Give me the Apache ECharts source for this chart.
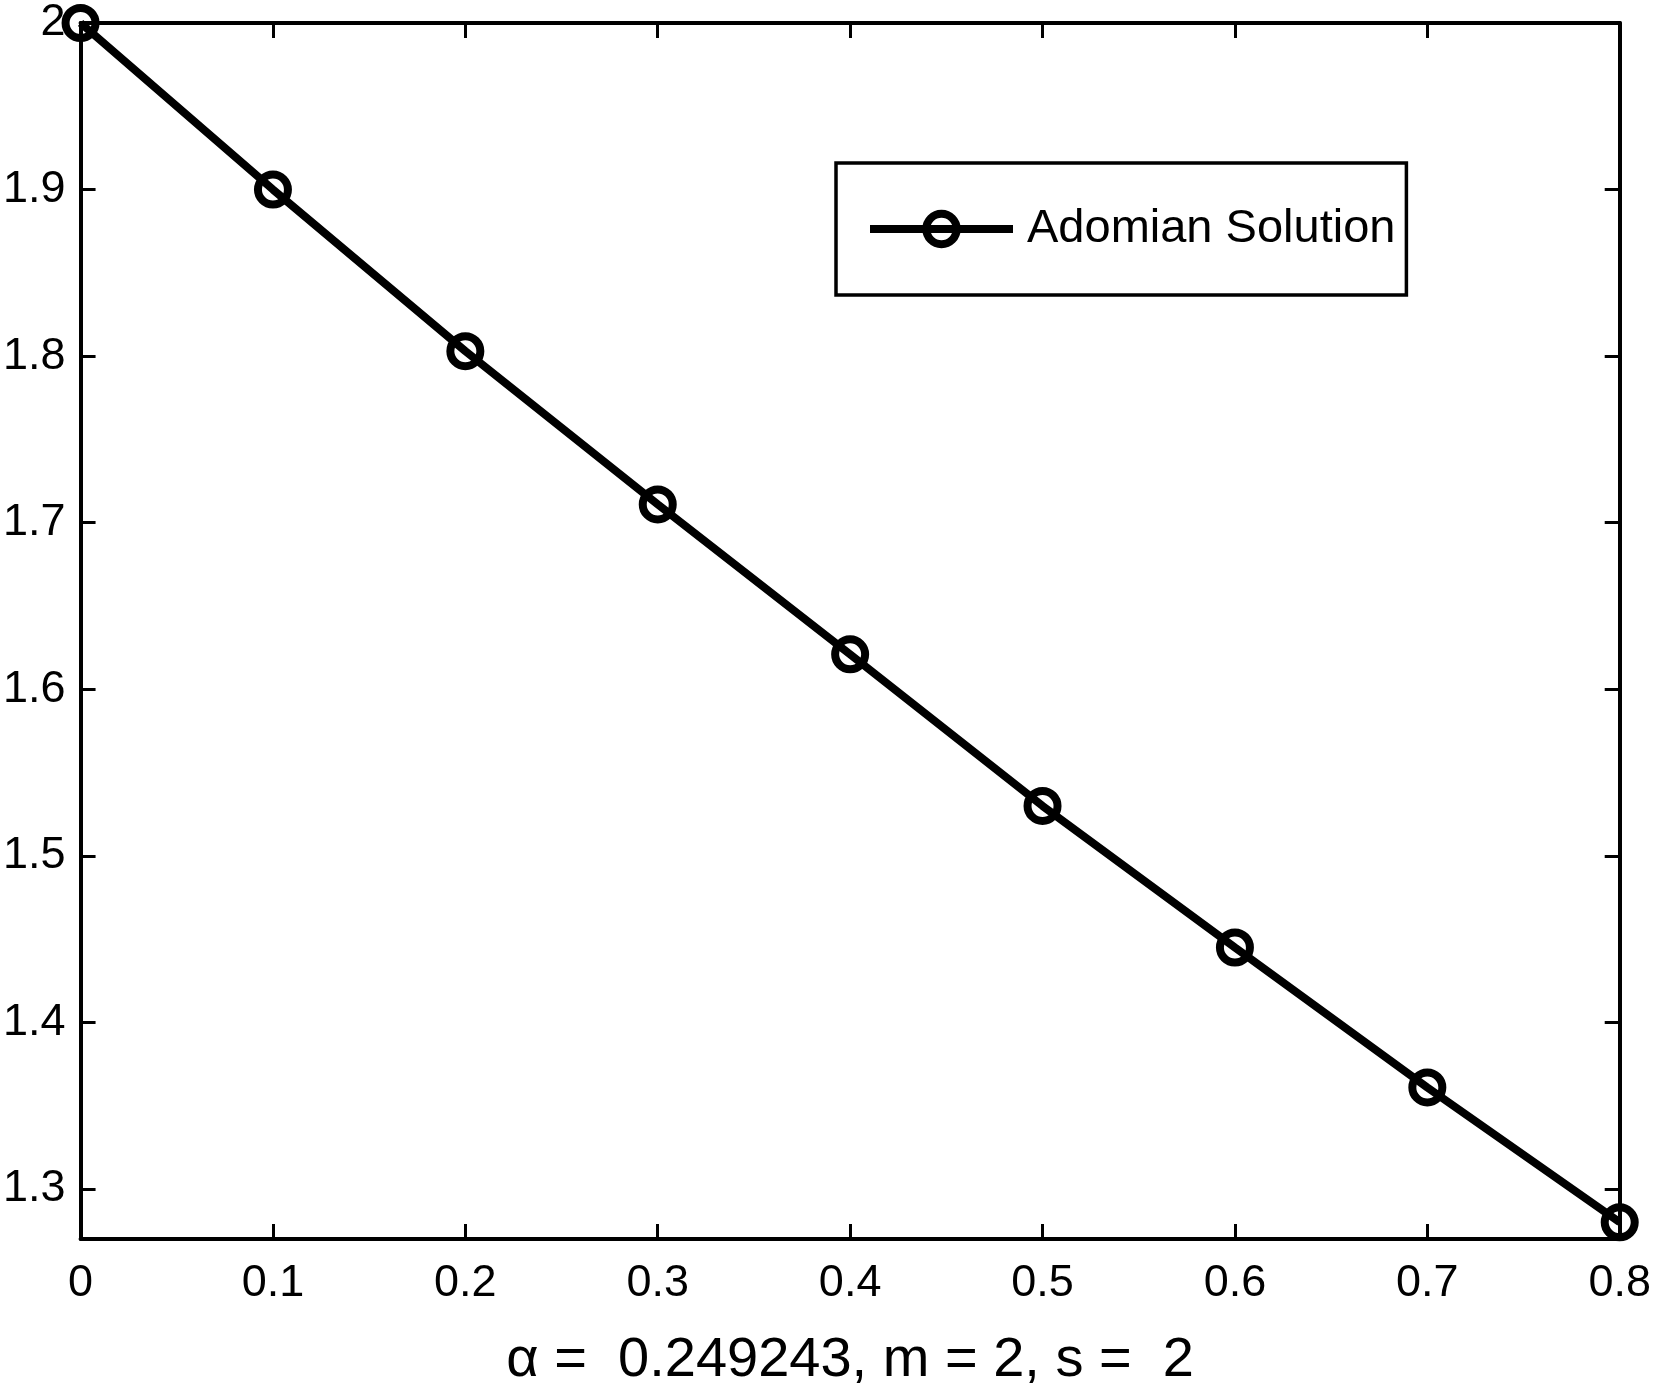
<!DOCTYPE html>
<html>
<head>
<meta charset="utf-8">
<script src="https://cdn.jsdelivr.net/npm/echarts@6/dist/echarts.min.js"></script>
<style>
html,body{margin:0;padding:0;background:#fff;}
#c{width:1654px;height:1394px;}
</style>
</head>
<body>
<div id="c"></div>
<script>
const xValues = [0, 0.1, 0.2, 0.3, 0.4, 0.5, 0.6, 0.7, 0.8];
const yValues = [2.000, 1.900, 1.803, 1.711, 1.621, 1.530, 1.445, 1.361, 1.280];
const yTicks = [1.3, 1.4, 1.5, 1.6, 1.7, 1.8, 1.9, 2.0];
const yMin = 1.27, yMax = 2;
const seriesName = 'Adomian Solution';
const xTitle = 'α =  0.249243, m = 2, s =  2';

const FONT = '"Liberation Sans", Arial, Helvetica, sans-serif';
const chart = echarts.init(document.getElementById('c'), null, {renderer: 'canvas'});

const axisLine = {show: true, onZero: false, lineStyle: {color: '#000', width: 4}};
const tick = {show: true, inside: true, length: 15, lineStyle: {color: '#000', width: 3}};

function fmtY(v) {
  const r = Math.round(v * 10) / 10;
  return r === 2 ? '2' : r.toFixed(1);
}
function fmtX(v) {
  const r = Math.round(v * 10) / 10;
  return r === 0 ? '0' : r.toFixed(1);
}

chart.setOption({
  animation: false,
  backgroundColor: '#fff',
  grid: {left: 79, right: 33, top: 23, bottom: 155, containLabel: false},
  legend: {
    show: true,
    left: 836, top: 163,
    orient: 'horizontal',
    backgroundColor: '#fff',
    borderColor: '#000', borderWidth: 3.5, borderRadius: 0,
    padding: [40, 11, 40, 30],
    itemWidth: 143, itemHeight: 38,
    lineStyle: {width: 8, color: '#000'},
    itemStyle: {color: 'rgba(0,0,0,0)', borderColor: '#000', borderWidth: 8},
    textStyle: {fontFamily: FONT, fontSize: 47, color: '#000', lineHeight: 52, padding: [0, 0, 0, 9]},
    data: [{name: seriesName}]
  },
  xAxis: [{
    type: 'value', min: 0, max: 0.8, interval: 0.1, position: 'bottom',
    axisLine: axisLine, axisTick: tick, splitLine: {show: false},
    axisLabel: {fontFamily: FONT, fontSize: 45, color: '#000', margin: 22, formatter: fmtX, showMinLabel: true, showMaxLabel: true},
    name: xTitle, nameLocation: 'middle', nameGap: 94,
    nameTextStyle: {fontFamily: FONT, fontSize: 56, color: '#000'}
  }, {
    type: 'value', min: 0, max: 0.8, interval: 0.1, position: 'top',
    axisLine: axisLine, axisTick: tick, splitLine: {show: false},
    axisLabel: {show: false}
  }],
  yAxis: [{
    type: 'value', min: yMin, max: yMax, position: 'left',
    axisLine: axisLine,
    axisTick: Object.assign({}, tick, {customValues: yTicks}),
    splitLine: {show: false},
    axisLabel: {fontFamily: FONT, fontSize: 45, color: '#000', margin: 15, formatter: fmtY, customValues: yTicks}
  }, {
    // right frame axis: distance below the top value, so ticks fall on 2.0, 1.9, ... 1.3
    type: 'value', min: 0, max: yMax - yMin, interval: 0.1, inverse: true, position: 'right',
    axisLine: axisLine,
    axisTick: tick,
    splitLine: {show: false},
    axisLabel: {show: false}
  }],
  series: [{
    name: seriesName,
    type: 'line',
    xAxisIndex: 0, yAxisIndex: 0,
    data: xValues.map((x, i) => [x, yValues[i]]),
    clip: false,
    symbol: 'circle',
    symbolSize: 30,
    showSymbol: true,
    lineStyle: {color: '#000', width: 8},
    itemStyle: {color: 'rgba(0,0,0,0)', borderColor: '#000', borderWidth: 8},
    z: 5
  }]
});
</script>
</body>
</html>
